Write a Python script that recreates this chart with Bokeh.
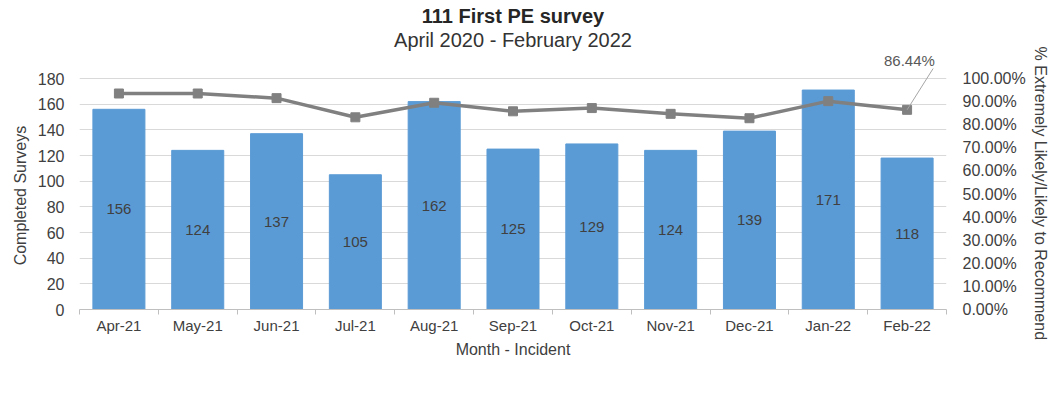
from bokeh.plotting import figure
from bokeh.models import (Range1d, LinearAxis, FixedTicker, NumeralTickFormatter,
                          ColumnDataSource, Legend, LegendItem, Title, Label, Arrow)
from bokeh.embed import file_html
from bokeh.resources import INLINE
from bokeh.core.properties import value

months = ["Apr-21", "May-21", "Jun-21", "Jul-21", "Aug-21", "Sep-21",
          "Oct-21", "Nov-21", "Dec-21", "Jan-22", "Feb-22"]
completed = [156, 124, 137, 105, 162, 125, 129, 124, 139, 171, 118]
series1 = [0.935, 0.935, 0.915, 0.832, 0.895, 0.858, 0.872, 0.847, 0.828, 0.902, 0.8644]
left_ticks = [0, 20, 40, 60, 80, 100, 120, 140, 160, 180]
right_ticks = [0.0, 0.1, 0.2, 0.3, 0.4, 0.5, 0.6, 0.7, 0.8, 0.9, 1.0]

FONT = "Liberation Sans"
TXT = "#404040"
NB = "\u00a0"

FRAME_TOP, FRAME_BOTTOM, GRID_PX = 50, 309, 231
y_end = left_ticks[-1] * (FRAME_BOTTOM - FRAME_TOP) / GRID_PX
pct_end = right_ticks[-1] * (FRAME_BOTTOM - FRAME_TOP) / GRID_PX

idx = list(range(len(months)))
src = ColumnDataSource(dict(
    x=idx, month=months, completed=completed,
    half=[v / 2 for v in completed],
    labels=[str(v) for v in completed],
    pct=series1,
))

p = figure(frame_width=867, frame_height=FRAME_BOTTOM - FRAME_TOP,
           output_backend="svg", toolbar_location=None, title=None,
           x_range=Range1d(-0.5, len(months) - 0.5),
           y_range=Range1d(0, y_end),
           min_border_left=79, min_border_right=105,
           min_border_top=FRAME_TOP, min_border_bottom=409 - FRAME_BOTTOM)
p.extra_y_ranges = {"pct": Range1d(0, pct_end)}
p.outline_line_color = None
p.background_fill_color = "white"
p.border_fill_color = "white"

# x axis
xa = p.xaxis[0]
xa.ticker = FixedTicker(ticks=idx, minor_ticks=[i - 0.5 for i in range(len(months) + 1)])
xa.major_label_overrides = {i: m for i, m in zip(idx, months)}
xa.major_tick_line_color = None
xa.major_tick_out = 0
xa.major_tick_in = 0
xa.minor_tick_line_color = "#BFBFBF"
xa.minor_tick_out = 5
xa.minor_tick_in = 0
xa.axis_line_color = "#BFBFBF"
xa.major_label_standoff = 2
xa.major_label_text_font_size = "15px"
xa.major_label_text_color = TXT
xa.major_label_text_font = FONT
xa.axis_label = "Month - Incident\n" + NB
xa.axis_label_text_line_height = 1.3
xa.axis_label_text_font_size = "16px"
xa.axis_label_text_font_style = "normal"
xa.axis_label_text_color = TXT
xa.axis_label_text_font = FONT
xa.axis_label_standoff = 4
p.xgrid.visible = False

# left axis
ya = p.yaxis[0]
ya.ticker = FixedTicker(ticks=left_ticks)
ya.axis_line_color = None
ya.major_tick_line_color = None
ya.minor_tick_line_color = None
ya.major_tick_out = 0
ya.major_label_standoff = 15
ya.major_label_text_font_size = "16px"
ya.major_label_text_color = TXT
ya.major_label_text_font = FONT
ya.axis_label = "Completed Surveys" + NB * 7
ya.axis_label_text_font_size = "16px"
ya.axis_label_text_font_style = "normal"
ya.axis_label_text_color = TXT
ya.axis_label_text_font = FONT
ya.axis_label_standoff = 6
p.ygrid.grid_line_color = "#D9D9D9"

# right axis
ra = LinearAxis(y_range_name="pct", ticker=FixedTicker(ticks=right_ticks),
                formatter=NumeralTickFormatter(format="0.00%"))
ra.axis_line_color = None
ra.major_tick_line_color = None
ra.minor_tick_line_color = None
ra.major_tick_out = 0
ra.major_label_standoff = 16
ra.major_label_text_font_size = "16px"
ra.major_label_text_color = TXT
ra.major_label_text_font = FONT
ra.axis_label = NB * 6 + "% Extremely Likely/Likely to Recommend"
ra.axis_label_text_font_size = "16px"
ra.axis_label_text_font_style = "normal"
ra.axis_label_text_color = TXT
ra.axis_label_text_font = FONT
ra.axis_label_standoff = 3
p.add_layout(ra, "right")

# bars
bars = p.vbar(x="x", top="completed", width=0.66, source=src,
              fill_color="#5B9BD5", line_color="#5B9BD5")
p.text(x="x", y="half", text="labels", source=src, text_align="center",
       text_baseline="middle", text_font_size="15px", text_color=TXT,
       text_font=value(FONT))

# line
ln = p.line(x="x", y="pct", source=src, y_range_name="pct",
            line_color="#808080", line_width=3.5)
sc = p.scatter(x="x", y="pct", source=src, y_range_name="pct", marker="square",
               size=9, fill_color="#808080", line_color="#808080")

# last point call-out
last = idx[-1]
p.add_layout(Arrow(end=None, x_start=last, y_start=series1[-1],
                   x_end=last + 0.33, y_end=1.043, y_range_name="pct",
                   line_color="#A6A6A6", line_width=1))
p.add_layout(Label(x=last + 0.03, y=1.078, y_range_name="pct",
                   text=f"{series1[-1] * 100:.2f}%", text_align="center",
                   text_baseline="middle", text_font_size="15px",
                   text_color="#595959", text_font=FONT))

# legend (below the x axis)
legend = Legend(items=[LegendItem(label="Completed returns", renderers=[bars]),
                       LegendItem(label="Series1", renderers=[ln, sc])],
                orientation="horizontal", location="center",
                border_line_color=None, background_fill_alpha=0,
                padding=0, margin=0, spacing=26, label_standoff=3,
                glyph_width=37, glyph_height=10, label_height=18,
                label_text_font_size="16px", label_text_color=TXT,
                label_text_font=FONT)
p.add_layout(legend, "below")

# titles
p.add_layout(Title(text="April 2020 - February 2022", align="center",
                   text_font_size="20px", text_font_style="normal",
                   text_color="#333333", text_font=FONT, standoff=0), "above")
p.add_layout(Title(text="111 First PE survey", align="center",
                   text_font_size="20px", text_font_style="bold",
                   text_color="#262626", text_font=FONT, standoff=0), "above")

open("out.html", "w").write(file_html(p, INLINE))
